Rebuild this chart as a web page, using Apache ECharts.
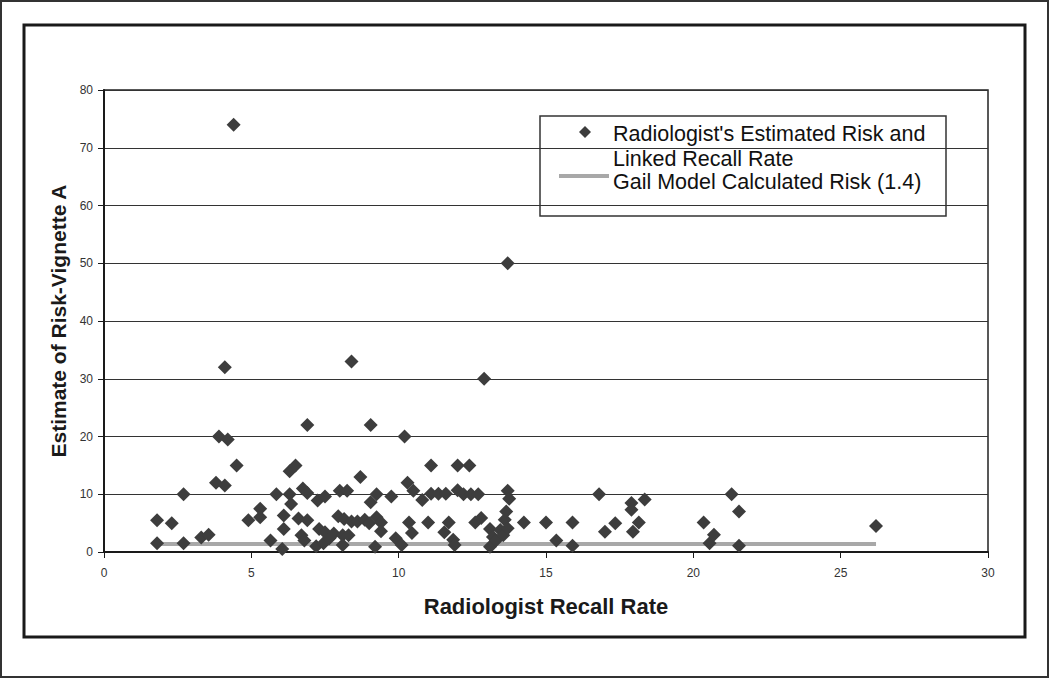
<!DOCTYPE html>
<html>
<head>
<meta charset="utf-8">
<title>Estimate of Risk-Vignette A</title>
<script src="https://cdn.jsdelivr.net/npm/echarts@6/dist/echarts.min.js"></script>
<style>
  html, body { margin: 0; padding: 0; background: #fff; }
  #main { width: 1050px; height: 679px; }
</style>
</head>
<body>
<div id="main"></div>
<script>
// radiologist points: [recall rate, estimated risk]
const radiologistPoints = [
  [1.8, 5.5], [1.8, 1.5], [2.3, 5], [2.7, 10], [2.7, 1.5], [3.3, 2.5], [3.55, 3],
  [3.8, 12], [3.9, 20], [4.1, 32], [4.1, 11.5], [4.2, 19.5], [4.4, 74], [4.5, 15],
  [4.9, 5.5], [5.3, 7.5], [5.3, 6], [5.65, 2], [5.85, 10], [6.05, 0.5],
  [6.1, 6.3], [6.1, 4], [6.3, 10], [6.35, 8.3], [6.3, 14], [6.5, 15], [6.6, 5.8],
  [6.7, 2.9], [6.8, 2], [6.75, 11], [6.9, 10.2], [6.9, 5.5], [6.9, 22],
  [7.2, 1], [7.25, 8.9], [7.3, 4], [7.45, 1.5], [7.5, 3.4], [7.5, 9.6], [7.65, 2.4], [7.8, 3.2],
  [7.95, 6.2], [8.0, 10.6], [8.1, 1.2], [8.1, 2.9], [8.15, 5.7], [8.25, 10.6], [8.3, 2.9],
  [8.4, 5.3], [8.4, 33], [8.6, 5.3], [8.7, 13], [8.85, 5.6], [9.0, 5], [9.05, 22], [9.05, 8.6],
  [9.2, 0.9], [9.25, 10], [9.25, 6], [9.4, 5.1], [9.4, 3.6],
  [9.75, 9.6], [9.9, 2.4], [10.1, 1.2], [10.2, 20], [10.3, 12], [10.35, 5.1], [10.45, 3.3],
  [10.5, 10.6], [10.8, 9],
  [11.0, 5.1], [11.1, 15], [11.1, 10.1], [11.35, 10.1], [11.55, 3.4], [11.6, 10.1], [11.7, 5.1],
  [11.85, 2.1], [11.9, 1.2],
  [12.0, 15], [12.0, 10.7], [12.2, 10], [12.4, 15], [12.45, 10], [12.6, 5.1], [12.7, 10],
  [12.8, 5.9], [12.9, 30],
  [13.1, 4], [13.1, 0.9], [13.2, 2.6], [13.3, 2], [13.45, 3.8], [13.55, 2.9], [13.6, 5.6],
  [13.65, 7], [13.7, 4.1], [13.7, 10.6], [13.75, 9.2], [13.7, 50],
  [14.25, 5.1], [15.0, 5.1], [15.35, 2], [15.9, 1.1], [15.9, 5.1],
  [16.8, 10], [17.0, 3.5], [17.35, 5], [17.9, 8.5], [17.9, 7.3], [17.95, 3.5], [18.15, 5.1],
  [18.35, 9.1],
  [20.35, 5.1], [20.55, 1.5], [20.7, 3], [21.3, 10], [21.55, 7], [21.55, 1.1], [26.2, 4.5]
]
// Gail model calculated risk (1.4), drawn across the observed recall range
const gailLine = [[1.8, 1.4], [26.2, 1.4]]

const xTicks = { min: 0, max: 30, interval: 5 }
const yTicks = { min: 0, max: 80, interval: 10 }

const FONT = 'Liberation Sans, Arial, sans-serif'
const chart = echarts.init(document.getElementById('main'), null, { renderer: 'svg' })

chart.setOption({
  backgroundColor: '#fff',
  animation: false,
  grid: {
    left: 104,
    right: 62,
    top: 90,
    bottom: 127,
    show: true,
    borderColor: '#222',
    borderWidth: 1.5
  },
  xAxis: {
    type: 'value',
    min: xTicks.min,
    max: xTicks.max,
    interval: xTicks.interval,
    name: 'Radiologist Recall Rate',
    nameLocation: 'middle',
    nameGap: 43,
    nameTextStyle: { fontFamily: FONT, fontSize: 22, fontWeight: 'bold', color: '#1a1a1a' },
    axisLine: { lineStyle: { color: '#1a1a1a', width: 2 } },
    axisTick: { length: 6, lineStyle: { color: '#1a1a1a', width: 1 } },
    axisLabel: { fontFamily: FONT, fontSize: 12, color: '#333', margin: 15 },
    splitLine: { show: false }
  },
  yAxis: {
    type: 'value',
    min: yTicks.min,
    max: yTicks.max,
    interval: yTicks.interval,
    name: 'Estimate of Risk-Vignette A',
    nameLocation: 'middle',
    nameGap: 31,
    nameTextStyle: { fontFamily: FONT, fontSize: 21, fontWeight: 'bold', color: '#1a1a1a' },
    axisLine: { show: true, lineStyle: { color: '#1a1a1a', width: 2 } },
    axisTick: { show: true, length: 6, lineStyle: { color: '#1a1a1a', width: 1 } },
    axisLabel: { fontFamily: FONT, fontSize: 12, color: '#333', margin: 11 },
    splitLine: { show: true, lineStyle: { color: '#333', width: 1 } }
  },
  graphic: [
    // outer frame
    { type: 'rect', z: -10, shape: { x: 1, y: 1, width: 1047, height: 676 },
      style: { fill: null, stroke: '#333', lineWidth: 2 } },
    // inner frame
    { type: 'rect', z: -10, shape: { x: 24, y: 25, width: 1001, height: 612 },
      style: { fill: null, stroke: '#1a1a1a', lineWidth: 3 } },
    // legend box
    {
      type: 'group',
      z: 100,
      children: [
        { type: 'rect', shape: { x: 540, y: 116, width: 406, height: 100 },
          style: { fill: '#fff', stroke: '#333', lineWidth: 1.5 } },
        { type: 'polygon', shape: { points: [[585, 126], [591, 132], [585, 138], [579, 132]] },
          style: { fill: '#3d3d3d' } },
        { type: 'text', x: 613, y: 134,
          style: { text: "Radiologist's Estimated Risk and", font: '21.5px ' + FONT, fill: '#111', verticalAlign: 'middle' } },
        { type: 'text', x: 613, y: 159,
          style: { text: 'Linked Recall Rate', font: '21.5px ' + FONT, fill: '#111', verticalAlign: 'middle' } },
        { type: 'line', shape: { x1: 559, y1: 176, x2: 609, y2: 176 },
          style: { stroke: '#a8a8a8', lineWidth: 4 } },
        { type: 'text', x: 613, y: 182,
          style: { text: 'Gail Model Calculated Risk (1.4)', font: '21.5px ' + FONT, fill: '#111', verticalAlign: 'middle' } }
      ]
    }
  ],
  series: [
    {
      name: 'Gail Model Calculated Risk (1.4)',
      type: 'line',
      z: 1,
      data: gailLine,
      showSymbol: false,
      lineStyle: { color: '#a8a8a8', width: 4 },
      itemStyle: { color: '#a8a8a8' }
    },
    {
      name: "Radiologist's Estimated Risk and Linked Recall Rate",
      type: 'scatter',
      z: 2,
      symbol: 'diamond',
      symbolSize: 14,
      itemStyle: { color: '#3d3d3d', opacity: 1 },
      data: radiologistPoints
    }
  ]
})
</script>
</body>
</html>
